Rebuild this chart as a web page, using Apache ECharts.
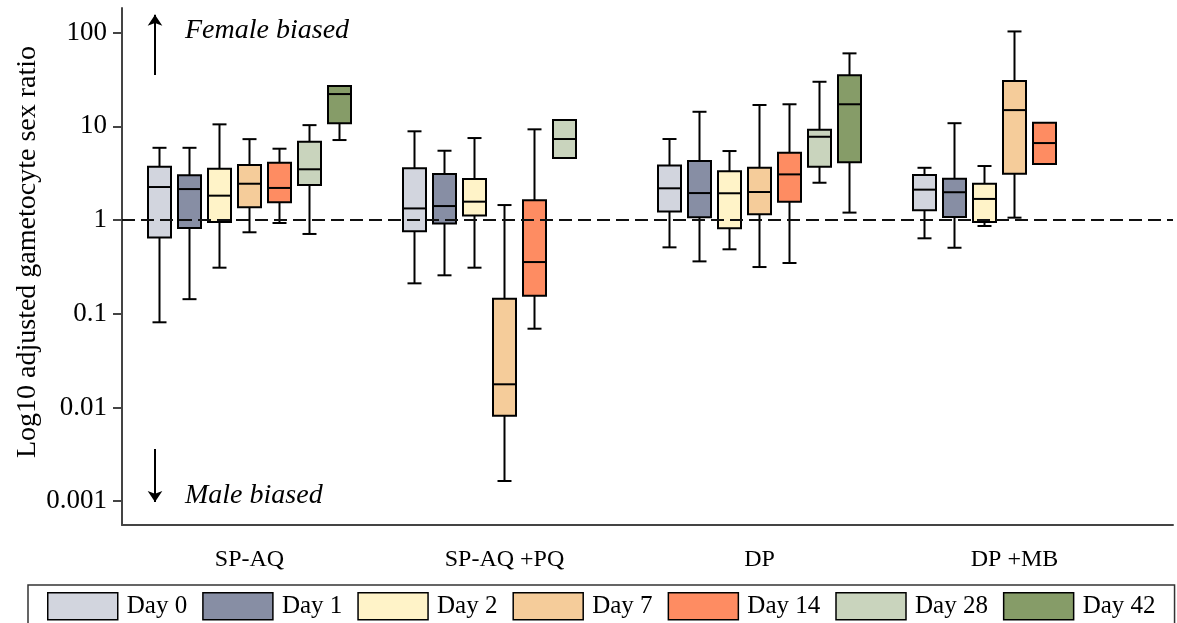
<!DOCTYPE html>
<html>
<head>
<meta charset="utf-8">
<script src="https://cdn.jsdelivr.net/npm/echarts@6/dist/echarts.min.js"></script>
<style>
html,body{margin:0;padding:0;background:#fff;}
#chart{width:1177px;height:623px;}
</style>
</head>
<body>
<div id="chart"></div>
<script>
// ---- Data (ratio values): [min, Q1, median, Q3, max] per treatment ----
const categories = ['SP-AQ', 'SP-AQ +PQ', 'DP', 'DP +MB'];
const days = ['Day 0', 'Day 1', 'Day 2', 'Day 7', 'Day 14', 'Day 28', 'Day 42'];
const colors = ['#d2d5de', '#878ea4', '#fff3c8', '#f5cc9a', '#fe8c62', '#c9d4bd', '#869c68'];

const day0  = [[0.081, 0.65, 2.25, 3.7, 5.9],    [0.211, 0.76, 1.33, 3.56, 8.85],  [0.511, 1.23, 2.18, 3.83, 7.32], [0.638, 1.27, 2.11, 3.02, 3.61]];
const day1  = [[0.143, 0.82, 2.14, 3.0, 5.9],    [0.257, 0.92, 1.41, 3.10, 5.49],  [0.362, 1.07, 1.94, 4.26, 14.3], [0.506, 1.08, 1.98, 2.76, 10.8]];
const day2  = [[0.31, 0.95, 1.82, 3.53, 10.5],   [0.31, 1.12, 1.57, 2.74, 7.5],    [0.487, 0.815, 1.93, 3.31, 5.45], [0.863, 0.95, 1.68, 2.44, 3.77]];
const day7  = [[0.74, 1.37, 2.44, 3.86, 7.3],    [0.00164, 0.00815, 0.01765, 0.1445, 1.445], [0.315, 1.15, 1.99, 3.61, 16.9], [1.06, 3.12, 14.9, 30.4, 103]];
const day14 = [[0.93, 1.55, 2.2, 4.09, 5.77],    [0.0692, 0.1556, 0.356, 1.63, 9.29], [0.348, 1.57, 3.07, 5.23, 17.2], [3.96, 3.96, 6.63, 10.9, 10.9]];
const day28 = [[0.71, 2.36, 3.48, 6.85, 10.3],   [4.59, 4.59, 7.32, 11.7, 11.7],   [2.5, 3.7, 7.74, 9.2, 29.9],     null];
const day42 = [[7.14, 10.8, 22.1, 26.9, 26.9],   null,                              [1.2, 4.13, 17.2, 35, 60.1],     null];
const dayData = [day0, day1, day2, day7, day14, day28, day42];

const yTickValues = [0.001, 0.01, 0.1, 1, 10, 100];
const yTickLabels = ['0.001', '0.01', '0.1', '1', '10', '100'];
const refLineValue = 1;

// ---- Chart ----
const FONT = '"Liberation Serif", "Times New Roman", serif';
const log10 = v => Math.log10(v);
const GRID_LEFT = 122, GRID_RIGHT = 1173, BAND_PX = 255;
const xMax = 0.5 + (GRID_RIGHT - GRID_LEFT) / BAND_PX;
const SPACING = 30 / 255, BOXW = 23 / 255, CAPW = 14 / 255;

function makeRender(dayIdx) {
  return function (params, api) {
    const cat = api.value(0);
    const band = api.size([1, 0])[0];
    const cx = api.coord([cat, 0])[0] + (dayIdx - 3) * band * SPACING;
    const bw = band * BOXW, cw = band * CAPW;
    const y = i => api.coord([cat, api.value(i)])[1];
    const yMin = y(1), yQ1 = y(2), yMed = y(3), yQ3 = y(4), yMax = y(5);
    const ls = { stroke: '#000', lineWidth: 2 };
    const children = [];
    if (yQ3 - yMax > 0.5) {
      children.push({ type: 'line', shape: { x1: cx, y1: yMax, x2: cx, y2: yQ3 }, style: ls });
      children.push({ type: 'line', shape: { x1: cx - cw / 2, y1: yMax, x2: cx + cw / 2, y2: yMax }, style: ls });
    }
    if (yMin - yQ1 > 0.5) {
      children.push({ type: 'line', shape: { x1: cx, y1: yQ1, x2: cx, y2: yMin }, style: ls });
      children.push({ type: 'line', shape: { x1: cx - cw / 2, y1: yMin, x2: cx + cw / 2, y2: yMin }, style: ls });
    }
    children.push({ type: 'rect', shape: { x: cx - bw / 2, y: yQ3, width: bw, height: yQ1 - yQ3 },
      style: { fill: colors[dayIdx], stroke: '#000', lineWidth: 2 } });
    children.push({ type: 'line', shape: { x1: cx - bw / 2, y1: yMed, x2: cx + bw / 2, y2: yMed }, style: ls });
    return { type: 'group', children: children };
  };
}

const boxSeries = days.map((d, di) => ({
  name: d,
  type: 'custom',
  z: 3,
  renderItem: makeRender(di),
  itemStyle: { color: colors[di], borderColor: '#000', borderWidth: 1.5 },
  encode: { x: 0, y: [1, 2, 3, 4, 5] },
  data: dayData[di].map((s, ci) => s ? [ci + 1].concat(s.map(log10)) : null).filter(Boolean)
}));

const arrowX = 0.5 + (155 - GRID_LEFT) / BAND_PX;
const refSeries = {
  name: 'ref', type: 'line', data: [], z: 1, silent: true,
  markLine: {
    silent: true,
    symbol: ['none', 'none'],
    label: { show: false },
    data: [
      { yAxis: log10(refLineValue), lineStyle: { type: [13, 6], color: '#111', width: 2 } },
      [ { coord: [arrowX, 1.547], symbol: 'none' },
        { coord: [arrowX, 2.19], symbol: 'arrow', symbolSize: 11, lineStyle: { type: 'solid', color: '#000', width: 2 } } ],
      [ { coord: [arrowX, -2.444], symbol: 'none' },
        { coord: [arrowX, -3.01], symbol: 'arrow', symbolSize: 11, lineStyle: { type: 'solid', color: '#000', width: 2 } } ]
    ]
  }
};

const option = {
  animation: false,
  backgroundColor: '#fff',
  textStyle: { fontFamily: FONT },
  grid: { left: GRID_LEFT, right: 1177 - GRID_RIGHT, top: 8, bottom: 623 - 525, containLabel: false },
  xAxis: {
    type: 'value', min: 0.5, max: xMax,
    axisLine: { show: true, onZero: false, lineStyle: { color: '#444', width: 2 } },
    axisTick: { show: false },
    splitLine: { show: false },
    axisLabel: {
      customValues: [1, 2, 3, 4],
      formatter: v => categories[Math.round(v) - 1] || '',
      color: '#000', fontSize: 24, fontFamily: FONT, margin: 23
    }
  },
  yAxis: {
    type: 'value', min: log10(yTickValues[0]) - 0.255, max: log10(yTickValues[5]) + 0.263,
    axisLine: { show: true, onZero: false, lineStyle: { color: '#444', width: 2 } },
    axisTick: { show: true, length: 9, customValues: yTickValues.map(log10), lineStyle: { color: '#444', width: 2 } },
    splitLine: { show: false },
    axisLabel: {
      customValues: yTickValues.map(log10),
      formatter: v => { const i = yTickValues.findIndex(t => Math.abs(log10(t) - v) < 1e-6); return i >= 0 ? yTickLabels[i] : ''; },
      color: '#000', fontSize: 27, fontFamily: FONT, margin: 15
    }
  },
  legend: {
    data: days.map((d, i) => ({ name: d, icon: 'rect', itemStyle: { color: colors[i], borderColor: '#000', borderWidth: 1.5 } })),
    left: 28, top: 585, width: 1150,
    padding: [7, 19, 10, 19],
    itemWidth: 70, itemHeight: 27, itemGap: 15,
    borderColor: '#333', borderWidth: 1.5,
    selectedMode: false,
    textStyle: { color: '#000', fontSize: 25, fontFamily: FONT, padding: [0, 0, 0, 4] }
  },
  graphic: [
    { type: 'text', x: 28, y: 252, rotation: Math.PI / 2,
      style: { text: 'Log10 adjusted gametocyte sex ratio', font: '28px ' + FONT, fill: '#000', align: 'center', verticalAlign: 'middle' } },
    { type: 'text', x: 185, y: 31,
      style: { text: 'Female biased', font: 'italic 28px ' + FONT, fill: '#000', align: 'left', verticalAlign: 'middle' } },
    { type: 'text', x: 185, y: 496,
      style: { text: 'Male biased', font: 'italic 28px ' + FONT, fill: '#000', align: 'left', verticalAlign: 'middle' } }
  ],
  series: [refSeries].concat(boxSeries)
};

const chart = echarts.init(document.getElementById('chart'), null, { renderer: 'canvas' });
chart.setOption(option);
</script>
</body>
</html>
